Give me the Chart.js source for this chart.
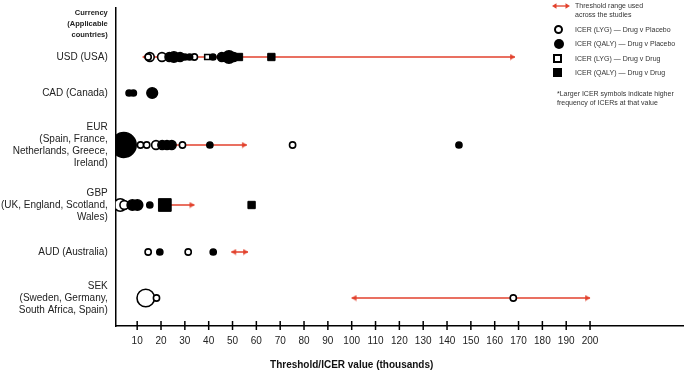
<!DOCTYPE html>
<html>
<head>
<meta charset="utf-8">
<script src="https://cdn.jsdelivr.net/npm/chart.js@4.4.0/dist/chart.umd.min.js"></script>
<style>
  html, body { margin: 0; padding: 0; background: #fff; }
  #wrap { position: relative; width: 685px; height: 373px; font-family: 'Liberation Sans', Arial, sans-serif; }
  #key { position: absolute; left: 0; top: 0; width: 685px; height: 120px; color: #333; font-size: 7px; }
  .txt { position: absolute; left: 575px; line-height: 9px; white-space: nowrap; }
  .sym { position: absolute; box-sizing: border-box; }
</style>
</head>
<body>
<div id="wrap">
  <canvas id="chart" width="685" height="373"></canvas>
  <div id="key">
    <svg class="sym" style="left:551px;top:2px" width="20" height="8">
      <line x1="3" y1="4" x2="17" y2="4" stroke="#e2412c" stroke-width="1.3"/>
      <polygon points="1,4 5.5,1.2 5.5,6.8" fill="#e2412c"/>
      <polygon points="19,4 14.5,1.2 14.5,6.8" fill="#e2412c"/>
    </svg>
    <div class="txt" style="top:1px">Threshold range used<br>across the studies</div>

    <div class="sym" style="left:554px;top:25px;width:9px;height:9px;border:2px solid #000;border-radius:50%"></div>
    <div class="txt" style="top:25px">ICER (LYG) — Drug v Placebo</div>

    <div class="sym" style="left:553.5px;top:38.5px;width:10px;height:10px;background:#000;border-radius:50%"></div>
    <div class="txt" style="top:39px">ICER (QALY) — Drug v Placebo</div>

    <div class="sym" style="left:553px;top:54px;width:9px;height:9px;border:2px solid #000"></div>
    <div class="txt" style="top:54px">ICER (LYG) — Drug v Drug</div>

    <div class="sym" style="left:553px;top:68px;width:9px;height:9px;background:#000"></div>
    <div class="txt" style="top:68px">ICER (QALY) — Drug v Drug</div>

    <div class="txt" style="left:557px;top:89px">*Larger ICER symbols indicate higher<br>frequency of ICERs at that value</div>
  </div>
</div>
<script>
// categories (top to bottom)
const currencies = [
  'USD (USA)',
  'CAD (Canada)',
  ['EUR', '(Spain, France,', 'Netherlands, Greece,', 'Ireland)'],
  ['GBP', '(UK, England, Scotland,', 'Wales)'],
  'AUD (Australia)',
  ['SEK', '(Sweden, Germany,', 'South Africa, Spain)']
];
const headerLabel = ['Currency', '(Applicable', 'countries)'];
const xTicks = [10, 20, 30, 40, 50, 60, 70, 80, 90, 100, 110, 120, 130, 140, 150, 160, 170, 180, 190, 200];
const xTitle = 'Threshold/ICER value (thousands)';

// [ICER value (thousands), currency index, number of ICERs at that value]
const lygPlacebo = [
  [15.3, 0, 2], [14.6, 0, 1], [20.4, 0, 2], [34, 0, 1],
  [11.4, 2, 1], [14, 2, 1], [17.9, 2, 2], [29, 2, 1], [75.2, 2, 1],
  [2.9, 3, 4], [4.6, 3, 2],
  [14.6, 4, 1], [31.4, 4, 1],
  [13.6, 5, 8], [18.1, 5, 1], [167.8, 5, 1]
];
const qalyPlacebo = [
  [23.5, 0, 2], [25.4, 0, 3], [28, 0, 2], [30, 0, 1], [32, 0, 1], [41.8, 0, 1], [45.5, 0, 2], [48.5, 0, 4], [50.5, 0, 2],
  [6.6, 1, 1], [8.4, 1, 1], [16.3, 1, 3],
  [4.4, 2, 16], [20.5, 2, 2], [22.5, 2, 2], [24.5, 2, 2], [40.5, 2, 1], [145, 2, 1],
  [8, 3, 3], [10.1, 3, 3], [15.3, 3, 1],
  [19.5, 4, 1], [41.9, 4, 1]
];
const lygDrug = [
  [39.4, 0, 1]
];
const qalyDrug = [
  [52.7, 0, 1], [66.3, 0, 1],
  [21.6, 3, 3], [58, 3, 1]
];
// [currency index, low, high] threshold range used across the studies
const thresholds = [
  [0, 12.3, 168.5],
  [2, 20, 56],
  [3, 21, 34],
  [4, 49.5, 56.5],
  [5, 100, 200]
];

// layout: vertical position of each row on the hidden y scale
const headerPos = 16;
const rowPos = [49, 85, 137, 197, 244, 290];
const yMax = 318;

const red = '#e2412c';
const family = "'Liberation Sans', Arial, sans-serif";

function arrowHead() {
  const c = document.createElement('canvas');
  c.width = 12; c.height = 7;
  const g = c.getContext('2d');
  g.fillStyle = red;
  g.beginPath();
  g.moveTo(6, 3.5); g.lineTo(1.2, 0.6); g.lineTo(1.2, 6.4);
  g.closePath(); g.fill();
  return c;
}
const head = arrowHead();

const toPoints = list => list.map(([v, r, n]) => ({ x: v, y: rowPos[r], n: n }));
const circleR = ctx => 3.1 * Math.sqrt(ctx.raw.n);
const squareR = ctx => 5.2 * Math.sqrt(ctx.raw.n);

const datasets = [
  { data: toPoints(qalyDrug), pointStyle: 'rect', pointRadius: squareR, backgroundColor: '#000', borderColor: '#000', borderWidth: 1, order: 0 },
  { data: toPoints(qalyPlacebo), pointStyle: 'circle', pointRadius: circleR, backgroundColor: '#000', borderColor: '#000', borderWidth: 1.5, order: 1 },
  { data: toPoints(lygPlacebo), pointStyle: 'circle', pointRadius: circleR, backgroundColor: '#fff', borderColor: '#000', borderWidth: 1.6, order: 2 },
  { data: toPoints(lygDrug), pointStyle: 'rect', pointRadius: ctx => 3.6 * Math.sqrt(ctx.raw.n), backgroundColor: '#fff', borderColor: '#000', borderWidth: 1.6, order: 3 }
];
thresholds.forEach(([r, lo, hi]) => {
  datasets.push({
    data: [{ x: lo, y: rowPos[r] }, { x: hi, y: rowPos[r] }],
    showLine: true,
    borderColor: red,
    borderWidth: 1.3,
    pointStyle: head,
    pointRadius: 3,
    pointRotation: [180, 0],
    order: 5
  });
});

// crossing tick marks and the axis title
const axisExtras = {
  id: 'axisExtras',
  afterDraw(chart) {
    const { ctx, chartArea, scales: { x } } = chart;
    ctx.save();
    ctx.strokeStyle = '#000';
    ctx.lineWidth = 1.5;
    x.ticks.forEach(t => {
      const px = x.getPixelForValue(t.value);
      ctx.beginPath();
      ctx.moveTo(px, chartArea.bottom - 5);
      ctx.lineTo(px, chartArea.bottom + 4);
      ctx.stroke();
    });
    ctx.font = 'bold 10px ' + family;
    ctx.fillStyle = '#111';
    ctx.textAlign = 'center';
    ctx.textBaseline = 'middle';
    ctx.fillText(xTitle, (x.getPixelForValue(0) + x.getPixelForValue(200)) / 2, chartArea.bottom + 39);
    ctx.restore();
  }
};

new Chart(document.getElementById('chart'), {
  type: 'scatter',
  data: { datasets: datasets },
  plugins: [axisExtras],
  options: {
    responsive: false,
    animation: false,
    events: [],
    layout: { autoPadding: false, padding: { left: 1, top: 8, right: 2, bottom: 22 } },
    plugins: { legend: { display: false }, tooltip: { enabled: false } },
    scales: {
      x: {
        type: 'linear',
        min: 1,
        max: 239,
        grid: { display: false, drawTicks: true, tickLength: 5 },
        border: { color: '#000', width: 1.5 },
        afterBuildTicks: s => { s.ticks = xTicks.map(v => ({ value: v })); },
        afterFit: s => { s.paddingLeft = 0; s.paddingRight = 0; },
        ticks: { color: '#222', padding: 4, autoSkip: false, maxRotation: 0, font: { family: family, size: 10 } }
      },
      y: {
        type: 'linear',
        reverse: true,
        min: 0,
        max: yMax,
        grid: { display: false, drawTicks: false },
        border: { color: '#000', width: 1.5 },
        afterBuildTicks: s => { s.ticks = [headerPos].concat(rowPos).map(v => ({ value: v })); },
        afterFit: s => { s.paddingTop = 0; s.paddingBottom = 0; s.width -= 8; },
        ticks: {
          autoSkip: false,
          padding: 8,
          color: '#222',
          callback: (v, i) => (i === 0 ? headerLabel : currencies[i - 1]),
          font: ctx => ctx.index === 0
            ? { family: family, size: 7.5, weight: 'bold', lineHeight: 1.45 }
            : { family: family, size: 10, lineHeight: 1.2 }
        }
      }
    }
  }
});
</script>
</body>
</html>
